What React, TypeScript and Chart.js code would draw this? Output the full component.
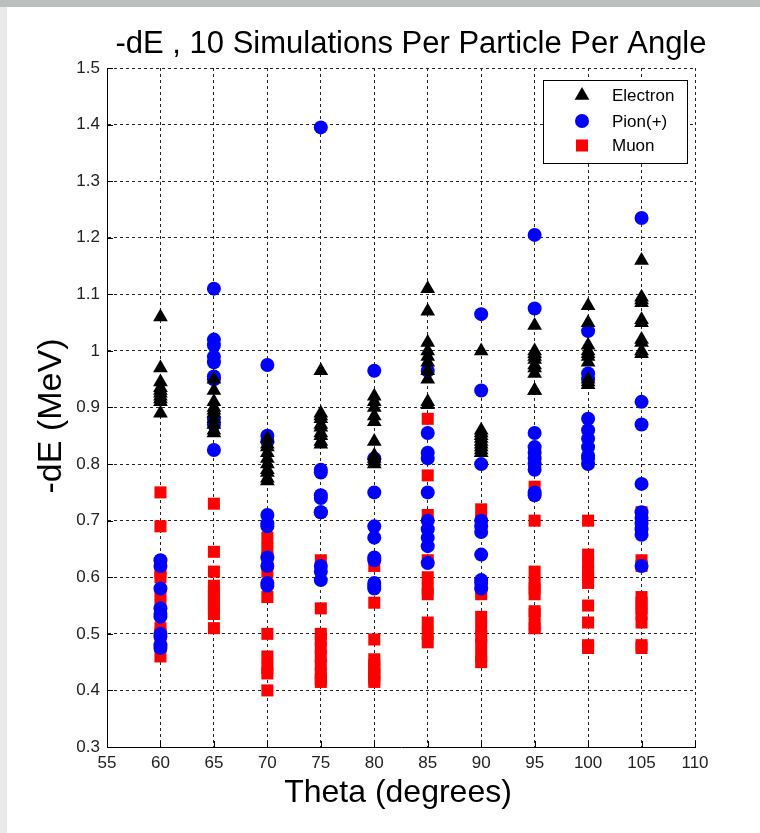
import React, { useEffect, useRef } from "react";
import { Chart, registerables } from "chart.js";

Chart.register(...registerables);

const chartTitle = "-dE , 10 Simulations Per Particle Per Angle";
const xAxisTitle = "Theta (degrees)";
const yAxisTitle = "-dE (MeV)";
const seriesNames = ["Electron", "Pion(+)", "Muon"];

const angles = [60, 65, 70, 75, 80, 85, 90, 95, 100, 105];

const electronValues = [
  [1.06, 0.97, 0.945, 0.935, 0.93, 0.925, 0.92, 0.915, 0.91, 0.89],
  [0.95, 0.93, 0.91, 0.9, 0.895, 0.89, 0.88, 0.87, 0.86, 0.855],
  [0.845, 0.835, 0.83, 0.82, 0.81, 0.8, 0.79, 0.785, 0.775, 0.77],
  [0.965, 0.89, 0.885, 0.88, 0.87, 0.865, 0.855, 0.85, 0.84, 0.835],
  [0.92, 0.91, 0.9, 0.885, 0.875, 0.84, 0.815, 0.81, 0.805, 0.8],
  [1.11, 1.07, 1.015, 1.0, 0.99, 0.98, 0.965, 0.95, 0.91, 0.905],
  [1.0, 0.86, 0.855, 0.85, 0.845, 0.84, 0.835, 0.83, 0.825, 0.82],
  [1.045, 1.0, 0.995, 0.99, 0.985, 0.975, 0.97, 0.96, 0.93, 0.93],
  [1.08, 1.05, 1.01, 1.0, 0.995, 0.99, 0.98, 0.95, 0.945, 0.94],
  [1.16, 1.095, 1.09, 1.085, 1.055, 1.05, 1.02, 1.015, 1.0, 0.995],
];

const pionValues = [
  [0.63, 0.62, 0.58, 0.545, 0.535, 0.53, 0.5, 0.495, 0.48, 0.475],
  [1.11, 1.02, 1.01, 0.99, 0.98, 0.955, 0.95, 0.88, 0.87, 0.825],
  [0.975, 0.85, 0.84, 0.71, 0.695, 0.69, 0.635, 0.62, 0.59, 0.585],
  [1.395, 0.79, 0.785, 0.745, 0.74, 0.715, 0.715, 0.62, 0.61, 0.595],
  [0.965, 0.81, 0.75, 0.69, 0.67, 0.635, 0.63, 0.59, 0.585, 0.58],
  [0.965, 0.855, 0.82, 0.81, 0.75, 0.7, 0.685, 0.67, 0.655, 0.625],
  [1.065, 0.93, 0.8, 0.7, 0.69, 0.68, 0.64, 0.595, 0.59, 0.58],
  [1.205, 1.075, 0.855, 0.83, 0.82, 0.81, 0.8, 0.79, 0.75, 0.745],
  [1.035, 0.96, 0.95, 0.88, 0.86, 0.845, 0.83, 0.815, 0.81, 0.8],
  [1.235, 0.91, 0.87, 0.765, 0.715, 0.705, 0.695, 0.685, 0.675, 0.62],
];

const muonValues = [
  [0.75, 0.69, 0.61, 0.6, 0.57, 0.55, 0.51, 0.5, 0.48, 0.46],
  [0.73, 0.645, 0.61, 0.585, 0.575, 0.565, 0.555, 0.545, 0.535, 0.51],
  [0.67, 0.65, 0.635, 0.61, 0.565, 0.5, 0.46, 0.44, 0.43, 0.4],
  [0.63, 0.545, 0.5, 0.49, 0.475, 0.46, 0.445, 0.43, 0.42, 0.415],
  [0.62, 0.555, 0.49, 0.455, 0.445, 0.44, 0.43, 0.425, 0.42, 0.415],
  [0.88, 0.78, 0.71, 0.63, 0.6, 0.58, 0.57, 0.52, 0.5, 0.485],
  [0.72, 0.7, 0.58, 0.57, 0.53, 0.51, 0.495, 0.48, 0.46, 0.45],
  [0.76, 0.7, 0.61, 0.59, 0.58, 0.57, 0.54, 0.535, 0.515, 0.51],
  [0.7, 0.64, 0.625, 0.61, 0.6, 0.59, 0.55, 0.52, 0.48, 0.475],
  [0.715, 0.63, 0.62, 0.565, 0.555, 0.545, 0.535, 0.52, 0.48, 0.475],
];

const xTicks = [55, 60, 65, 70, 75, 80, 85, 90, 95, 100, 105, 110];
const yTicks = [0.3, 0.4, 0.5, 0.6, 0.7, 0.8, 0.9, 1.0, 1.1, 1.2, 1.3, 1.4, 1.5];

const FONT = "'Liberation Sans', Arial, sans-serif";

function toPoints(vals: number[][]) {
  return angles.flatMap((a, i) => vals[i].map((v) => ({ x: a, y: v })));
}

function drawMarker(ctx: CanvasRenderingContext2D, kind: string, x: number, y: number, color: string) {
  ctx.fillStyle = color;
  ctx.beginPath();
  if (kind === "triangle") {
    const r = 8.5;
    ctx.moveTo(x, y - r);
    ctx.lineTo(x + r * 0.866, y + r * 0.5);
    ctx.lineTo(x - r * 0.866, y + r * 0.5);
    ctx.closePath();
    ctx.fill();
  } else if (kind === "circle") {
    ctx.arc(x, y, 7, 0, Math.PI * 2);
    ctx.fill();
  } else {
    ctx.fillRect(x - 6, y - 6, 12, 12);
  }
}

const matlabPlugin = {
  id: "matlabDecor",
  beforeDraw(chart: any) {
    const { ctx, width, height } = chart;
    ctx.save();
    ctx.fillStyle = "#ffffff";
    ctx.fillRect(0, 0, width, height);
    ctx.fillStyle = "#e9e9e9";
    ctx.fillRect(0, 0, 7, height);
    ctx.fillStyle = "#babfbf";
    ctx.fillRect(0, 0, width, 7);
    ctx.restore();
  },
  afterDraw(chart: any) {
    const { ctx, chartArea } = chart;
    const xs = chart.scales.x;
    const ys = chart.scales.y;
    ctx.save();
    // inner tick marks
    ctx.strokeStyle = "#000";
    ctx.lineWidth = 1;
    ctx.setLineDash([]);
    ctx.beginPath();
    xTicks.forEach((t) => {
      const px = Math.round(xs.getPixelForValue(t)) + 0.5;
      ctx.moveTo(px, chartArea.bottom);
      ctx.lineTo(px, chartArea.bottom - 6);
    });
    yTicks.forEach((t) => {
      const py = Math.round(ys.getPixelForValue(t)) + 0.5;
      ctx.moveTo(chartArea.left, py);
      ctx.lineTo(chartArea.left + 6, py);
    });
    ctx.stroke();

    // legend
    const lx = 543, ly = 80, lw = 144, lh = 83;
    ctx.fillStyle = "#fff";
    ctx.fillRect(lx, ly, lw, lh);
    ctx.strokeStyle = "#000";
    ctx.strokeRect(lx + 0.5, ly + 0.5, lw, lh);
    const kinds = ["triangle", "circle", "rect"];
    const colors = ["#000000", "#0000ff", "#ff0000"];
    const rowsY = [95.5, 121, 145.5];
    ctx.font = `17px ${FONT}`;
    ctx.textAlign = "left";
    ctx.textBaseline = "middle";
    seriesNames.forEach((name, i) => {
      drawMarker(ctx, kinds[i], 582, rowsY[i], colors[i]);
      ctx.fillStyle = "#000";
      ctx.fillText(name, 612, rowsY[i] + 1);
    });

    // titles
    ctx.fillStyle = "#000";
    ctx.textAlign = "center";
    ctx.textBaseline = "alphabetic";
    ctx.font = `31px ${FONT}`;
    ctx.fillText(chartTitle, 411, 53);
    ctx.font = `32px ${FONT}`;
    ctx.fillText(xAxisTitle, 398, 802);
    ctx.save();
    ctx.translate(61, 416);
    ctx.rotate(-Math.PI / 2);
    ctx.font = `34px ${FONT}`;
    ctx.fillText(yAxisTitle, 0, 0);
    ctx.restore();
    ctx.restore();
  },
};

export default function App() {
  const ref = useRef<HTMLCanvasElement | null>(null);

  useEffect(() => {
    document.body.style.margin = "0";
    const canvas = ref.current;
    if (!canvas) return;
    const chart = new Chart(canvas, {
      type: "scatter",
      data: {
        datasets: [
          {
            label: seriesNames[0],
            data: toPoints(electronValues),
            pointStyle: "triangle",
            pointRadius: 8.5,
            backgroundColor: "#000000",
            borderColor: "#000000",
            borderWidth: 0,
          },
          {
            label: seriesNames[1],
            data: toPoints(pionValues),
            pointStyle: "circle",
            pointRadius: 7,
            backgroundColor: "#0000ff",
            borderColor: "#0000ff",
            borderWidth: 0,
          },
          {
            label: seriesNames[2],
            data: toPoints(muonValues),
            pointStyle: "rect",
            pointRadius: 8.5,
            backgroundColor: "#ff0000",
            borderColor: "#ff0000",
            borderWidth: 0,
          },
        ],
      },
      options: {
        responsive: false,
        animation: false,
        events: [],
        layout: { padding: { top: 68, right: 65, left: 0, bottom: 0 } },
        plugins: {
          legend: { display: false },
          title: { display: false },
          tooltip: { enabled: false },
        },
        scales: {
          x: {
            type: "linear",
            min: 55,
            max: 110,
            afterBuildTicks: (s: any) => {
              s.ticks = xTicks.map((v) => ({ value: v }));
            },
            afterFit: (s: any) => {
              s.height = 86;
            },
            ticks: {
              autoSkip: false,
              maxRotation: 0,
              padding: 6,
              color: "#222",
              font: { family: FONT, size: 17 },
              callback: (v: any) => String(v),
            },
            grid: {
              color: "#222",
              lineWidth: 1,
              drawTicks: false,
            },
            border: { display: true, color: "#000", width: 1, dash: [3, 3] },
          },
          y: {
            type: "linear",
            min: 0.3,
            max: 1.5,
            afterBuildTicks: (s: any) => {
              s.ticks = yTicks.map((v) => ({ value: v }));
            },
            afterFit: (s: any) => {
              s.width = 107;
            },
            ticks: {
              autoSkip: false,
              padding: 7,
              color: "#222",
              font: { family: FONT, size: 17 },
              callback: (v: any) => String(Number(Number(v).toFixed(1))),
            },
            grid: {
              color: "#222",
              lineWidth: 1,
              drawTicks: false,
            },
            border: { display: true, color: "#000", width: 1, dash: [3, 3] },
          },
        },
      },
      plugins: [matlabPlugin],
    });
    return () => chart.destroy();
  }, []);

  return (
    <div style={{ position: "absolute", left: 0, top: 0, width: 760, height: 833 }}>
      <canvas ref={ref} width={760} height={833} style={{ width: 760, height: 833, display: "block" }} />
    </div>
  );
}
